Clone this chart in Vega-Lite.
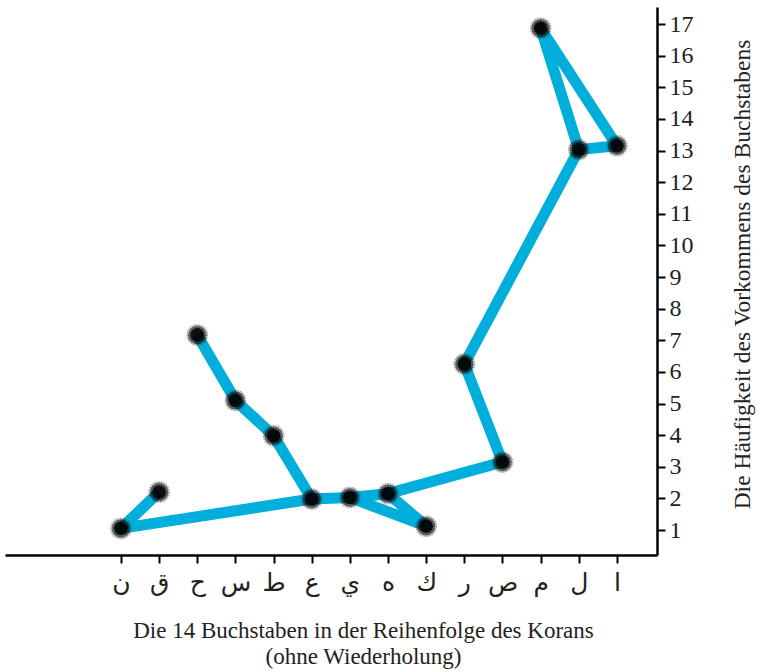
{
  "$schema": "https://vega.github.io/schema/vega-lite/v6.json",
  "autosize": {"type": "none"},
  "width": 652,
  "height": 548,
  "padding": {"left": 5, "top": 7, "right": 100, "bottom": 117},
  "background": "white",
  "config": {"view": {"stroke": null}, "font": "Liberation Serif"},
  "datasets": {
    "points": [
      {"letter": "ا", "pos": 1, "value": 13.15},
      {"letter": "ل", "pos": 2, "value": 13.03},
      {"letter": "م", "pos": 3, "value": 16.87},
      {"letter": "ص", "pos": 4, "value": 3.15},
      {"letter": "ر", "pos": 5, "value": 6.25},
      {"letter": "ك", "pos": 6, "value": 1.12},
      {"letter": "ه", "pos": 7, "value": 2.15},
      {"letter": "ي", "pos": 8, "value": 2.03},
      {"letter": "ع", "pos": 9, "value": 1.98},
      {"letter": "ط", "pos": 10, "value": 3.98},
      {"letter": "س", "pos": 11, "value": 5.1},
      {"letter": "ح", "pos": 12, "value": 7.17},
      {"letter": "ق", "pos": 13, "value": 2.2},
      {"letter": "ن", "pos": 14, "value": 1.05}
    ],
    "path": [
      {"seg": "A", "step": 1, "letter": "ح"},
      {"seg": "A", "step": 2, "letter": "س"},
      {"seg": "A", "step": 3, "letter": "ط"},
      {"seg": "A", "step": 4, "letter": "ع"},
      {"seg": "A", "step": 5, "letter": "ن"},
      {"seg": "A", "step": 6, "letter": "ق"},
      {"seg": "B", "step": 1, "letter": "ع"},
      {"seg": "B", "step": 2, "letter": "ي"},
      {"seg": "B", "step": 3, "letter": "ه"},
      {"seg": "B", "step": 4, "letter": "ص"},
      {"seg": "B", "step": 5, "letter": "ر"},
      {"seg": "B", "step": 6, "letter": "ل"},
      {"seg": "B", "step": 7, "letter": "ا"},
      {"seg": "B", "step": 8, "letter": "م"},
      {"seg": "B", "step": 9, "letter": "ل"},
      {"seg": "C", "step": 1, "letter": "ي"},
      {"seg": "C", "step": 2, "letter": "ك"},
      {"seg": "C", "step": 3, "letter": "ه"}
    ]
  },
  "encoding": {
    "x": {
      "field": "pos",
      "type": "quantitative",
      "scale": {"domain": [-0.05, 17.04], "reverse": true, "nice": false, "zero": false},
      "axis": {
        "values": [1, 2, 3, 4, 5, 6, 7, 8, 9, 10, 11, 12, 13, 14],
        "labelExpr": "['','ا','ل','م','ص','ر','ك','ه','ي','ع','ط','س','ح','ق','ن'][datum.value]",
        "labelFont": "DejaVu Sans",
        "labelFontSize": 25,
        "labelColor": "#222",
        "labelPadding": 7,
        "grid": false,
        "domainColor": "black",
        "domainWidth": 2.5,
        "tickColor": "black",
        "tickWidth": 2,
        "tickSize": 8,
        "title": ["Die 14 Buchstaben in der Reihenfolge des Korans", "(ohne Wiederholung)"],
        "titleFont": "Liberation Serif",
        "titleFontSize": 23,
        "titleFontWeight": "normal",
        "titleColor": "#222",
        "titleLineHeight": 26,
        "titleX": 358,
        "titleY": 64,
        "titleAlign": "center",
        "titleBaseline": "top"
      }
    },
    "y": {
      "field": "value",
      "type": "quantitative",
      "scale": {"domain": [0.21, 17.54], "nice": false, "zero": false},
      "axis": {
        "orient": "right",
        "values": [1, 2, 3, 4, 5, 6, 7, 8, 9, 10, 11, 12, 13, 14, 15, 16, 17],
        "labelFont": "Liberation Serif",
        "labelFontSize": 24,
        "labelColor": "#222",
        "labelPadding": 4,
        "grid": false,
        "domainColor": "black",
        "domainWidth": 2.5,
        "tickColor": "black",
        "tickWidth": 2,
        "tickSize": 8,
        "title": "Die Häufigkeit des Vorkommens des Buchstabens",
        "titleFont": "Liberation Serif",
        "titleFontSize": 23.5,
        "titleFontWeight": "normal",
        "titleColor": "#222",
        "titleAngle": 270,
        "titleX": 85,
        "titleY": 267,
        "titleAlign": "center",
        "titleBaseline": "middle"
      }
    }
  },
  "layer": [
    {
      "data": {"name": "path"},
      "transform": [
        {"lookup": "letter", "from": {"data": {"name": "points"}, "key": "letter", "fields": ["pos", "value"]}}
      ],
      "mark": {"type": "line", "color": "#00AEDB", "strokeWidth": 11, "strokeJoin": "round", "strokeCap": "butt"},
      "encoding": {
        "detail": {"field": "seg"},
        "order": {"field": "step", "type": "quantitative"}
      }
    },
    {
      "data": {"name": "points"},
      "mark": {"type": "circle", "size": 480, "color": "#555", "opacity": 0.2}
    },
    {
      "data": {"name": "points"},
      "mark": {"type": "circle", "size": 340, "fill": "black", "fillOpacity": 0.55, "stroke": "#222", "strokeWidth": 3, "strokeOpacity": 0.35, "strokeDash": [1, 1.5]}
    },
    {
      "data": {"name": "points"},
      "mark": {"type": "circle", "size": 190, "color": "black", "opacity": 0.85}
    }
  ]
}
